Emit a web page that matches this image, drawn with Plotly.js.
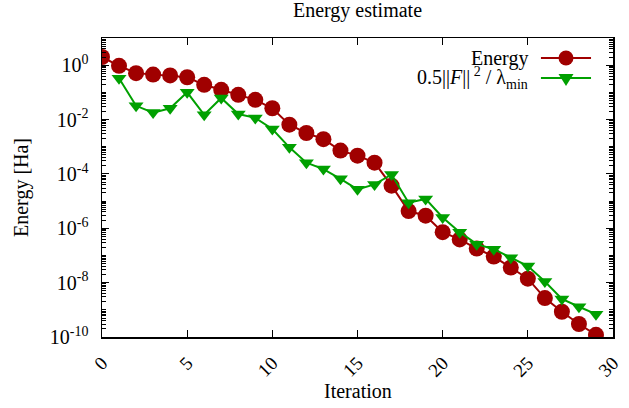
<!DOCTYPE html>
<html>
<head>
<meta charset="utf-8">
<script src="https://cdn.plot.ly/plotly-3.0.1.min.js"></script>
<style>html,body{margin:0;padding:0;background:#fff;}#chart{width:629px;height:408px;}</style>
</head>
<body>
<div id="chart"></div>
<script>
const iterations = [0,1,2,3,4,5,6,7,8,9,10,11,12,13,14,15,16,17,18,19,20,21,22,23,24,25,26,27,28,29];
const energy = [2.0,0.95,0.51,0.45,0.42,0.36,0.19,0.124,0.081,0.053,0.026,0.0065,0.0032,0.0019,7.2e-4,4.7e-4,2.6e-4,3.7e-5,4.3e-6,2.9e-6,7.2e-7,3.9e-7,1.8e-7,9.1e-8,3.6e-8,1.4e-8,2.7e-9,8.5e-10,3.0e-10,1.2e-10];
const estIterations = [1,2,3,4,5,6,7,8,9,10,11,12,13,14,15,16,17,18,19,20,21,22,23,24,25,26,27,28,29];
const estimate = [0.33,0.032,0.018,0.026,0.10,0.015,0.062,0.016,0.0115,0.0045,9.5e-4,2.6e-4,1.5e-4,6.6e-5,2.7e-5,4.1e-5,9.5e-5,8.7e-6,1.2e-5,2.5e-6,7.2e-7,2.6e-7,1.7e-7,8.3e-8,4.1e-8,1.1e-8,2.5e-9,1.3e-9,6.9e-10];
const yTickVals = [1e-10,1e-8,1e-6,1e-4,1e-2,1e0];
const yTickText = ['10<sup>-10</sup>','10<sup>-8</sup>','10<sup>-6</sup>','10<sup>-4</sup>','10<sup>-2</sup>','10<sup>0</sup>'];
const xTickVals = [0,5,10,15,20,25,30];
const seriesNames = ['Energy','0.5||<i>F</i>||<sup> 2</sup> / λ<sub>min</sub>'];

const RED = '#a00000', GREEN = '#00a000';
const FONT = 'Liberation Serif, Times New Roman, serif';

const traces = [
  {x: iterations, y: energy, mode: 'lines+markers', name: seriesNames[0],
   line: {color: RED, width: 2}, marker: {symbol: 'circle', size: 16, color: RED}},
  {x: estIterations, y: estimate, mode: 'lines+markers', name: seriesNames[1],
   line: {color: GREEN, width: 2}, marker: {symbol: 'triangle-down', size: 13, color: GREEN}}
];

const legRows = [0.933, 0.866];
const shapes = [], annotations = [];
[RED, GREEN].forEach((c, i) => {
  shapes.push({type: 'line', xref: 'paper', yref: 'paper', x0: 0.859, x1: 0.957, y0: legRows[i], y1: legRows[i], line: {color: c, width: 2}});
  annotations.push({xref: 'paper', yref: 'paper', x: 0.838, y: legRows[i], xanchor: 'right', yanchor: 'middle', text: seriesNames[i], showarrow: false, font: {family: FONT, size: 20, color: '#000'}});
});
shapes.push({type: 'circle', xref: 'paper', yref: 'paper', xsizemode: 'pixel', ysizemode: 'pixel', xanchor: 0.908, yanchor: legRows[0], x0: -7.5, x1: 7.5, y0: -7.5, y1: 7.5, fillcolor: RED, line: {width: 0}});
shapes.push({type: 'path', xref: 'paper', yref: 'paper', xsizemode: 'pixel', ysizemode: 'pixel', xanchor: 0.908, yanchor: legRows[1], path: 'M-7.5,4 L7.5,4 L0,-8 Z', fillcolor: GREEN, line: {width: 0}});
annotations.push({xref: 'paper', yref: 'paper', x: 0.5, y: -0.18, xanchor: 'center', yanchor: 'middle', text: 'Iteration', showarrow: false, font: {family: FONT, size: 20, color: '#000'}});

const layout = {
  width: 629, height: 408,
  margin: {l: 102, r: 16, t: 38, b: 71},
  paper_bgcolor: '#fff', plot_bgcolor: '#fff',
  showlegend: false,
  font: {family: FONT, size: 20, color: '#000'},
  title: {text: 'Energy estimate', x: 0.5, xref: 'paper', y: 0.975, yanchor: 'middle', font: {family: FONT, size: 20, color: '#000'}},
  xaxis: {range: [0, 30], tickvals: xTickVals, ticks: 'inside', ticklen: 7, tickcolor: '#000', tickwidth: 1,
          showline: true, linecolor: '#000', linewidth: 1.5, mirror: 'allticks', showgrid: false, zeroline: false,
          tickangle: -45, tickfont: {family: FONT, size: 19}, ticklabelstandoff: 6},
  yaxis: {type: 'log', range: [-10, 1], tickvals: yTickVals, ticktext: yTickText, ticks: 'inside', ticklen: 7,
          tickcolor: '#000', tickwidth: 1, showline: true, linecolor: '#000', linewidth: 1.5, mirror: 'allticks',
          showgrid: false, zeroline: false, tickfont: {family: FONT, size: 20}, ticklabelstandoff: 8,
          minor: {dtick: 'D1', ticks: 'inside', ticklen: 4, tickcolor: '#000', showgrid: false},
          title: {text: 'Energy [Ha]', font: {family: FONT, size: 20}, standoff: 16}},
  shapes: shapes, annotations: annotations
};
Plotly.newPlot('chart', traces, layout, {displayModeBar: false, staticPlot: true});
</script>
</body>
</html>
